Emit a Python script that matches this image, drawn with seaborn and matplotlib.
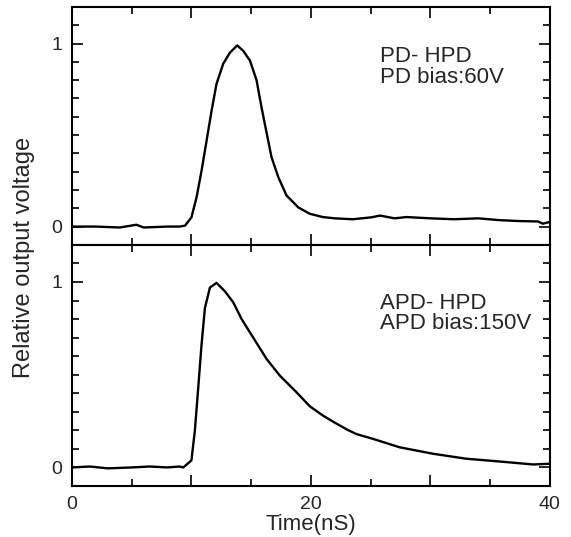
import numpy as np
import pandas as pd
import matplotlib
matplotlib.use("Agg")
import matplotlib.pyplot as plt
import seaborn as sns
from matplotlib.ticker import MultipleLocator, FixedLocator

# ---- data ----
pd_time = [0, 2, 4, 5.4, 6, 8, 9.0, 9.46, 10.0, 10.43, 10.85, 11.27, 11.69, 12.1, 12.66,
           13.22, 13.83, 14.34, 14.9, 15.45, 15.87, 16.3, 16.7, 17.27, 17.96, 18.94, 19.9,
           21.0, 22.0, 23.5, 25.0, 25.8, 27.0, 28.0, 30.0, 32.0, 34.0, 35.8, 37.5, 39.0,
           39.4, 40]
pd_volt = [0.0, 0.0, -0.005, 0.01, -0.005, 0.0, 0.0, 0.005, 0.05, 0.16, 0.306, 0.47, 0.634,
           0.78, 0.89, 0.95, 0.99, 0.96, 0.907, 0.80, 0.65, 0.51, 0.38, 0.27, 0.17, 0.105,
           0.07, 0.052, 0.045, 0.04, 0.05, 0.06, 0.045, 0.052, 0.045, 0.04, 0.045, 0.035,
           0.03, 0.028, 0.016, 0.025]

apd_time = [0, 1.5, 3, 5, 6.5, 8, 9.0, 9.32, 10.0, 10.29, 10.57, 10.85, 11.13, 11.55, 12.1,
            12.8, 13.5, 14.2, 15.17, 16.3, 17.4, 18.8, 19.9, 21.0, 21.9, 23.0, 23.8, 25.2,
            27.4, 30.2, 33.0, 35.8, 38.6, 40]
apd_volt = [0.0, 0.005, -0.005, 0.0, 0.005, 0.0, 0.005, 0.0, 0.038, 0.2, 0.43, 0.665, 0.86,
            0.97, 0.995, 0.95, 0.89, 0.80, 0.70, 0.584, 0.495, 0.405, 0.33, 0.28, 0.245, 0.205,
            0.18, 0.154, 0.109, 0.074, 0.047, 0.032, 0.016, 0.02]

x_ticklabels = ["0", "20", "40"]
y_ticklabels = ["0", "1"]
labels_top = ["PD- HPD", "PD bias:60V"]
labels_bottom = ["APD- HPD", "APD bias:150V"]

sns.set_theme(style="ticks")
plt.rcParams["font.family"] = ["Liberation Sans", "DejaVu Sans"]

fig = plt.figure(figsize=(5.71, 5.37), dpi=100)
ax1 = fig.add_axes([0.126, 0.544, 0.837, 0.443])
ax2 = fig.add_axes([0.126, 0.095, 0.837, 0.449])

df1 = pd.DataFrame({"t": pd_time, "v": pd_volt})
df2 = pd.DataFrame({"t": apd_time, "v": apd_volt})
sns.lineplot(data=df1, x="t", y="v", ax=ax1, color="black", linewidth=1.7, estimator=None)
sns.lineplot(data=df2, x="t", y="v", ax=ax2, color="black", linewidth=1.7, estimator=None)

for ax in (ax1, ax2):
    ax.set_xlim(0, 40)
    ax.set_ylim(-0.1, 1.2)
    ax.xaxis.set_major_locator(MultipleLocator(10))
    ax.xaxis.set_minor_locator(MultipleLocator(5))
    ax.yaxis.set_major_locator(FixedLocator([0, 1]))
    ax.yaxis.set_minor_locator(MultipleLocator(0.1))
    ax.tick_params(which="both", direction="in", top=True, bottom=True, left=True, right=True,
                   color="black", width=1.2)
    ax.tick_params(which="major", length=8, pad=7)
    ax.tick_params(which="minor", length=5)
    ax.set_xlabel("")
    ax.set_ylabel("")
    for s in ax.spines.values():
        s.set_linewidth(1.5)
        s.set_color("black")
    ax.set_yticks([0, 1])
    ax.set_yticklabels(y_ticklabels, fontsize=14)

ax1.set_xticklabels([])
ax2.set_xticks([0, 10, 20, 30, 40])
ax2.set_xticklabels([x_ticklabels[0], "", x_ticklabels[1], "", x_ticklabels[2]], fontsize=14)
ax2.set_xlabel("Time(nS)", fontsize=16, labelpad=1)

ax1.text(25.8, 0.985, labels_top[0] + "\n" + labels_top[1], fontsize=16, va="top",
         ha="left", linespacing=0.95)
ax2.text(25.8, 0.94, labels_bottom[0] + "\n" + labels_bottom[1], fontsize=16, va="top",
         ha="left", linespacing=0.95)

fig.text(0.042, 0.521, "Relative output voltage", rotation=90, fontsize=17,
         ha="center", va="center")

fig.savefig("out.png", dpi=100)
